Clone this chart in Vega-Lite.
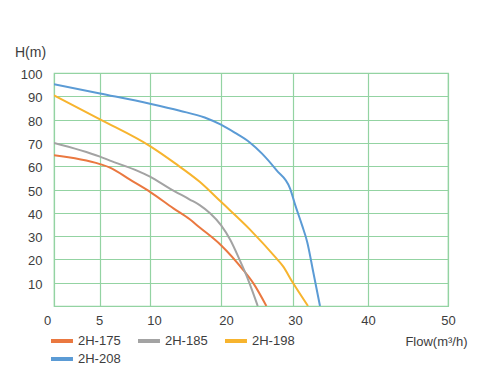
{
  "$schema": "https://vega.github.io/schema/vega-lite/v6.json",
  "width": 394,
  "height": 233,
  "autosize": {"type": "none"},
  "padding": {"left": 54, "top": 73, "right": 53, "bottom": 66},
  "background": "white",
  "config": {
    "view": {"stroke": "#93D3A2", "strokeWidth": 1.2},
    "font": "Liberation Sans",
    "axis": {"labelFont": "Liberation Sans", "titleFont": "Liberation Sans", "labelColor": "#3d3d3d", "titleColor": "#3d3d3d", "titleFontWeight": "normal"}
  },
  "data": {
    "values": [
      {"s": "2H-175", "q": 0, "h": 64.7},
      {"s": "2H-175", "q": 5, "h": 60.9},
      {"s": "2H-175", "q": 6, "h": 59.4},
      {"s": "2H-175", "q": 8, "h": 54.2},
      {"s": "2H-175", "q": 10, "h": 49.0},
      {"s": "2H-175", "q": 13.3, "h": 41.9},
      {"s": "2H-175", "q": 15.6, "h": 37.2},
      {"s": "2H-175", "q": 17.0, "h": 33.7},
      {"s": "2H-175", "q": 20, "h": 26.1},
      {"s": "2H-175", "q": 23.1, "h": 15.4},
      {"s": "2H-175", "q": 24.5, "h": 9.7},
      {"s": "2H-175", "q": 26.3, "h": 0},
      {"s": "2H-185", "q": 0, "h": 70.0},
      {"s": "2H-185", "q": 5, "h": 64.1},
      {"s": "2H-185", "q": 6, "h": 62.4},
      {"s": "2H-185", "q": 8.7, "h": 58.1},
      {"s": "2H-185", "q": 10, "h": 55.5},
      {"s": "2H-185", "q": 12.8, "h": 50.4},
      {"s": "2H-185", "q": 15.6, "h": 45.7},
      {"s": "2H-185", "q": 17.0, "h": 43.3},
      {"s": "2H-185", "q": 18.5, "h": 39.7},
      {"s": "2H-185", "q": 20, "h": 34.7},
      {"s": "2H-185", "q": 21.3, "h": 28.3},
      {"s": "2H-185", "q": 22.6, "h": 19.7},
      {"s": "2H-185", "q": 23.6, "h": 12.6},
      {"s": "2H-185", "q": 24.3, "h": 6.9},
      {"s": "2H-185", "q": 25.1, "h": 0},
      {"s": "2H-198", "q": 0, "h": 90.4},
      {"s": "2H-198", "q": 5, "h": 80.1},
      {"s": "2H-198", "q": 10, "h": 68.6},
      {"s": "2H-198", "q": 13.5, "h": 61.3},
      {"s": "2H-198", "q": 17.0, "h": 53.3},
      {"s": "2H-198", "q": 20, "h": 44.7},
      {"s": "2H-198", "q": 24.0, "h": 32.9},
      {"s": "2H-198", "q": 27.7, "h": 20.4},
      {"s": "2H-198", "q": 28.6, "h": 17.1},
      {"s": "2H-198", "q": 29.9, "h": 10.4},
      {"s": "2H-198", "q": 32.0, "h": 0},
      {"s": "2H-208", "q": 0, "h": 95.2},
      {"s": "2H-208", "q": 5, "h": 91.2},
      {"s": "2H-208", "q": 10, "h": 86.8},
      {"s": "2H-208", "q": 14.2, "h": 83.8},
      {"s": "2H-208", "q": 17.7, "h": 80.9},
      {"s": "2H-208", "q": 20, "h": 77.8},
      {"s": "2H-208", "q": 21.9, "h": 74.4},
      {"s": "2H-208", "q": 24.0, "h": 70.2},
      {"s": "2H-208", "q": 25.7, "h": 65.4},
      {"s": "2H-208", "q": 27.7, "h": 58.3},
      {"s": "2H-208", "q": 29.6, "h": 50.4},
      {"s": "2H-208", "q": 30.3, "h": 43.3},
      {"s": "2H-208", "q": 31.2, "h": 34.7},
      {"s": "2H-208", "q": 31.9, "h": 27.4},
      {"s": "2H-208", "q": 32.7, "h": 14.6},
      {"s": "2H-208", "q": 33.6, "h": 0}
    ]
  },
  "mark": {"type": "line", "strokeWidth": 2, "interpolate": "monotone", "clip": true},
  "encoding": {
    "x": {
      "field": "q",
      "type": "quantitative",
      "scale": {"domain": [0, 5, 10, 20, 30, 40, 50], "range": [0, 46, 96, 167, 239, 314, 394], "nice": false, "zero": false},
      "axis": {
        "values": [0, 5, 10, 20, 30, 40, 50],
        "title": "Flow(m³/h)",
        "titleAnchor": null,
        "titleX": 413,
        "titleY": 35,
        "titleAlign": "right",
        "titleBaseline": "middle",
        "titleFontSize": 13,
        "labelFontSize": 13,
        "labelPadding": 8,
        "labelOffset": {"expr": "datum.value == 0 ? -7 : datum.value == 5 ? -1 : datum.value == 10 ? 4 : datum.value == 20 ? 5 : datum.value == 30 ? 2 : 0"},
        "ticks": false,
        "domain": false,
        "grid": true,
        "gridColor": "#93D3A2",
        "gridWidth": 1.2,
        "gridOpacity": 1,
        "labelFlush": false,
        "labelOverlap": false
      }
    },
    "y": {
      "field": "h",
      "type": "quantitative",
      "scale": {"domain": [0, 100], "nice": false},
      "axis": {
        "values": [0, 10, 20, 30, 40, 50, 60, 70, 80, 90, 100],
        "labelExpr": "datum.value == 0 ? '' : datum.label",
        "title": "H(m)",
        "titleAngle": 0,
        "titleX": -24,
        "titleY": -21,
        "titleAlign": "center",
        "titleBaseline": "middle",
        "titleFontSize": 14,
        "labelFontSize": 13,
        "labelPadding": 12,
        "labelOffset": 1.5,
        "ticks": false,
        "domain": false,
        "grid": true,
        "gridColor": "#93D3A2",
        "gridWidth": 1.2,
        "gridOpacity": 1,
        "labelFlush": false,
        "labelOverlap": false
      }
    },
    "color": {
      "field": "s",
      "type": "nominal",
      "scale": {"domain": ["2H-175", "2H-185", "2H-198", "2H-208"], "range": ["#EA7840", "#A3A3A3", "#F7B42E", "#5B9BD5"]},
      "legend": {
        "title": null,
        "orient": "none",
        "legendX": -3,
        "legendY": 260,
        "direction": "horizontal",
        "columns": 3,
        "columnPadding": 17,
        "rowPadding": 2,
        "clipHeight": 16,
        "padding": 0,
        "symbolType": "M-1.35,0H1.35",
        "symbolSize": 289,
        "symbolStrokeWidth": 4,
        "symbolFillColor": "transparent",
        "labelOffset": 6,
        "labelFontSize": 13,
        "labelFont": "Liberation Sans",
        "labelColor": "#3d3d3d"
      }
    }
  }
}
